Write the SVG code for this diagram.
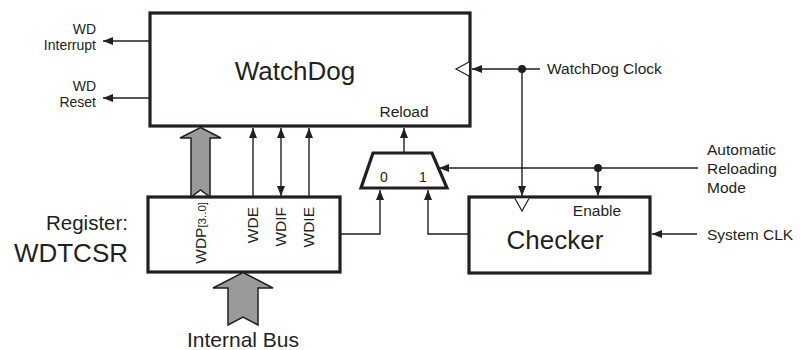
<svg xmlns="http://www.w3.org/2000/svg" width="800" height="350" viewBox="0 0 800 350">
<style>
text{font-family:"Liberation Sans",Arial,sans-serif;fill:#231f20}
.s{font-size:15.5px}
.t{font-size:14px}
.big{font-size:26px}
.box{fill:#fff;stroke:#231f20;stroke-width:3.2}
.w{fill:none;stroke:#231f20;stroke-width:1.4}
.bus{fill:#9a9a9c;stroke:#231f20;stroke-width:1.5;stroke-linejoin:miter}
.clk{fill:#fff;stroke:#231f20;stroke-width:1.2}
</style>
<defs>
<marker id="ah" viewBox="0 0 10 8" refX="10" refY="4" markerWidth="10" markerHeight="8" markerUnits="userSpaceOnUse" orient="auto-start-reverse">
<path d="M0,0L10,4L0,8z" fill="#231f20"/>
</marker>
</defs>
<rect width="800" height="350" fill="#fff"/>
<g id="watchdog">
<rect class="box" x="150" y="13" width="320" height="113"/>
<text class="big" x="295" y="80" text-anchor="middle">WatchDog</text>
<text class="s" x="404" y="117" text-anchor="middle">Reload</text>
<path class="clk" d="M469,62L456,69L469,76"/>
</g>
<g id="register">
<rect class="box" x="148" y="197" width="192" height="75"/>
<text class="s" transform="translate(206,202) rotate(-90)" text-anchor="end">WDP<tspan font-size="11.5px">[3..0]</tspan></text>
<text class="s" transform="translate(258,207) rotate(-90)" text-anchor="end">WDE</text>
<text class="s" transform="translate(286,207) rotate(-90)" text-anchor="end">WDIF</text>
<text class="s" transform="translate(314,207) rotate(-90)" text-anchor="end">WDIE</text>
</g>
<g id="register-label">
<text x="128" y="230" text-anchor="end" font-size="20.5px">Register:</text>
<text class="big" x="128" y="262" text-anchor="end">WDTCSR</text>
</g>
<g id="mux">
<path class="box" d="M373,153L432,153L447,188L361,188z"/>
<text x="384" y="182" text-anchor="middle" font-size="14px">0</text>
<text x="423" y="182" text-anchor="middle" font-size="14px">1</text>
</g>
<g id="checker">
<rect class="box" x="469" y="197" width="181" height="76"/>
<text class="big" x="555" y="249" text-anchor="middle">Checker</text>
<text class="s" x="597" y="216" text-anchor="middle">Enable</text>
<path class="clk" d="M515,198.5L522,211L529,198.5"/>
</g>
<g id="labels">
<text class="t" x="96" y="34" text-anchor="end">WD</text>
<text class="t" x="96" y="50" text-anchor="end">Interrupt</text>
<text class="t" x="96" y="91" text-anchor="end">WD</text>
<text class="t" x="96" y="107" text-anchor="end">Reset</text>
<text class="s" x="547" y="74">WatchDog Clock</text>
<text class="s" x="707" y="155">Automatic</text>
<text class="s" x="707" y="174">Reloading</text>
<text class="s" x="707" y="193">Mode</text>
<text class="s" x="707" y="240">System CLK</text>
<text x="243" y="347" text-anchor="middle" font-size="21px">Internal Bus</text>
</g>
<g id="connectors">
<polygon class="bus" points="200.5,127.5 221,138 210,138 210,197 200.5,190 191,197 191,138 180,138"/>
<polygon class="bus" points="243,272.5 273,288 258,288 258,325 243,317 228,325 228,288 213,288"/>
<line class="w" x1="149" y1="41" x2="103" y2="41" marker-end="url(#ah)"/>
<line class="w" x1="149" y1="98" x2="103" y2="98" marker-end="url(#ah)"/>
<line class="w" x1="540" y1="69" x2="472" y2="69" marker-end="url(#ah)"/>
<circle cx="522" cy="69" r="4" fill="#231f20"/>
<line class="w" x1="522" y1="69" x2="522" y2="196" marker-end="url(#ah)"/>
<line class="w" x1="698" y1="168" x2="439" y2="168" marker-end="url(#ah)"/>
<circle cx="598" cy="168" r="4" fill="#231f20"/>
<line class="w" x1="598" y1="168" x2="598" y2="196" marker-end="url(#ah)"/>
<line class="w" x1="697" y1="234" x2="652" y2="234" marker-end="url(#ah)"/>
<line class="w" x1="404" y1="152" x2="404" y2="128" marker-end="url(#ah)"/>
<path class="w" d="M340,234H380V190" marker-end="url(#ah)"/>
<path class="w" d="M469,234H428V190" marker-end="url(#ah)"/>
<line class="w" x1="253" y1="196" x2="253" y2="128" marker-end="url(#ah)"/>
<line class="w" x1="281" y1="196" x2="281" y2="128" marker-start="url(#ah)" marker-end="url(#ah)"/>
<line class="w" x1="309" y1="196" x2="309" y2="128" marker-end="url(#ah)"/>
</g>
</svg>
